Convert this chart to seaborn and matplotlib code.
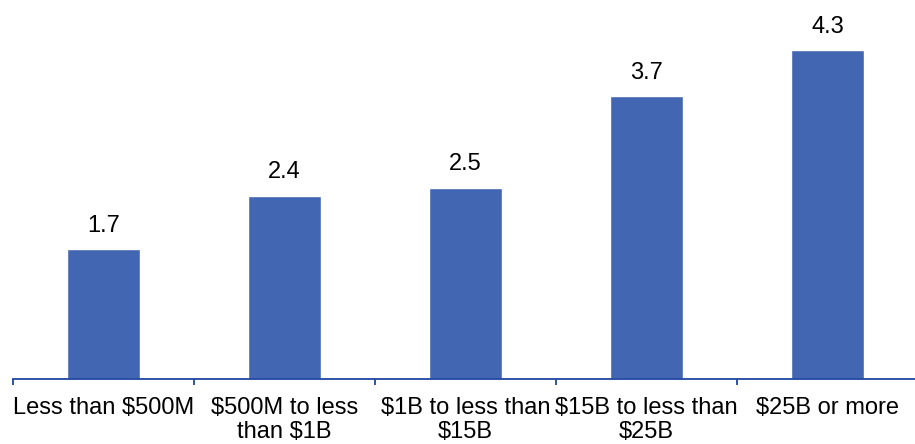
import matplotlib
matplotlib.use("Agg")
import matplotlib.pyplot as plt
import seaborn as sns
import pandas as pd

categories = ["Less than $500M", "$500M to less\nthan $1B", "$1B to less than\n$15B",
              "$15B to less than\n$25B", "$25B or more"]
values = [1.7, 2.4, 2.5, 3.7, 4.3]
value_labels = ["1.7", "2.4", "2.5", "3.7", "4.3"]

sns.set_theme(style="white")
plt.rcParams["font.family"] = ["Liberation Sans", "DejaVu Sans"]

df = pd.DataFrame({"cat": categories, "val": values})

fig = plt.figure(figsize=(9.15, 4.44), dpi=100)
ax = fig.add_axes([13 / 915, 65 / 444, 905 / 915, 379 / 444])
sns.barplot(data=df, x="cat", y="val", color="#4266B1", width=0.4, ax=ax, saturation=1)

ax.set_ylim(0, 4.96)
ax.set_xlim(-0.5, 4.5)
for i, (v, lab) in enumerate(zip(values, value_labels)):
    ax.text(i, v + 0.23, lab, ha="center", va="baseline", fontsize=17, color="#000000")

for s in ["top", "right", "left"]:
    ax.spines[s].set_visible(False)
ax.spines["bottom"].set_color("#1F46A0")
ax.spines["bottom"].set_linewidth(1.3)
ax.set_yticks([])
ax.set_xlabel("")
ax.set_ylabel("")
ax.set_xticks(range(len(categories)))
ax.set_xticklabels(categories, fontsize=17, color="#000000", linespacing=1.12)
ax.tick_params(axis="x", which="major", length=0, pad=13)
ax.set_xticks([-0.5, 0.5, 1.5, 2.5, 3.5, 4.5], minor=True)
ax.tick_params(axis="x", which="minor", length=4, width=1.3, color="#1F46A0", bottom=True)

fig.savefig("out.png", dpi=100)
